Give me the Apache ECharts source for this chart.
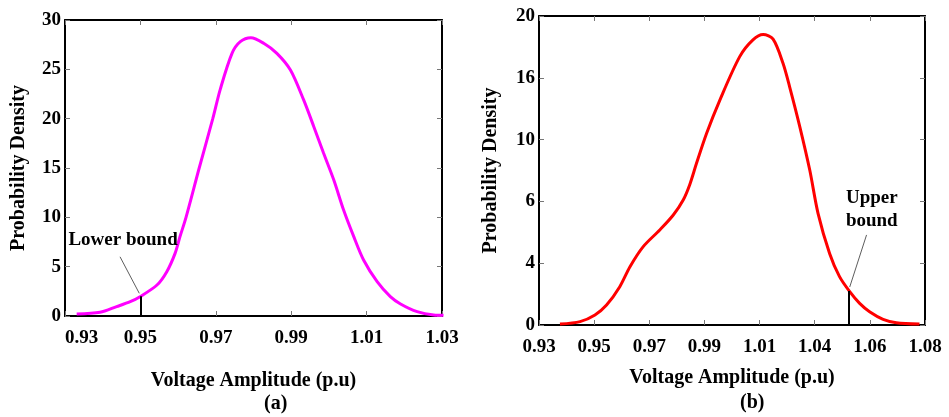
<!DOCTYPE html>
<html><head><meta charset="utf-8">
<script src="https://cdn.jsdelivr.net/npm/echarts@6/dist/echarts.min.js"></script>
<style>html,body{margin:0;padding:0;background:#fff}#c{width:949px;height:417px}</style>
</head><body><div id="c"></div>
<script>
// ---- Data (a) ----
const voltA = [0.9331,0.9393,0.9437,0.9473,0.9499,0.9544,0.9570,0.9592,0.9605,0.9621,0.9656,0.9692,0.9712,0.9743,0.9765,0.9793,0.9827,0.9862,0.9898,0.9933,0.9960,0.9986,1.0013,1.0039,1.0066,1.0092,1.0128,1.0163,1.0190,1.0234,1.0278,1.0304];
const densA = [0.2,0.37,0.95,1.45,1.96,3.14,4.49,6.35,8.04,10.0,15.0,20.0,23.0,26.62,27.8,28.2,27.64,26.62,24.93,21.9,19.19,16.49,13.78,10.74,8.04,5.68,3.48,1.96,1.22,0.44,0.1,0.07];
const xTicksA = ['0.93','0.95','0.97','0.99','1.01','1.03'];
const yTicksA = ['0','5','10','15','20','25','30'];
// ---- Data (b) ----
const voltB = [0.9376,0.9449,0.9503,0.9545,0.9593,0.9630,0.9678,0.9738,0.9787,0.9823,0.9847,0.9871,0.9908,0.9956,1.0028,1.0076,1.0113,1.0149,1.0185,1.0209,1.0246,1.0282,1.0312,1.0354,1.0390,1.0427,1.0463,1.0499,1.0548,1.0596,1.0680];
const densB = [0.06,0.22,0.65,1.29,2.48,3.77,5.07,6.15,7.12,8.09,9.1,10.45,12.41,14.56,17.37,18.45,18.8,18.5,16.94,15.42,12.83,10.03,7.23,4.63,3.13,2.16,1.4,0.86,0.37,0.15,0.06];
const xTicksB = ['0.93','0.95','0.97','0.99','1.01','1.04','1.06','1.08'];
const yTicksB = ['0','4','6','10','16','20'];
// annotations
const lowerBound = {x:0.95, y:2.0, lineFrom:[0.9446,6.0], lineTo:[0.9497,2.3], text:'Lower bound', textAt:[0.9454,7.7]};
const upperBound = {x:1.0424, y:2.2, lineFrom:[1.0488,5.83], lineTo:[1.0427,2.46], text:'Upper\nbound', textAt:[1.0507,7.45]};

const X0 = 0.93, STEP = 0.02;
const FONT = '"Liberation Serif","Times New Roman",serif';
const txt = {color:'#000', fontFamily:FONT, fontWeight:'bold', fontSize:19};

function idxLabel(arr, step){ return v => { const i = Math.round(v/step); return arr[i] !== undefined ? arr[i] : ''; }; }

function xAxes(grid, max, labels, alignMin){
  return [
    {type:'value', gridIndex:grid, min:0, max:max, interval:STEP, position:'bottom',
     axisLine:{show:true, onZero:false, lineStyle:{color:'#000', width:2}},
     axisTick:{show:true, inside:true, length:5, lineStyle:{color:'#777'}},
     splitLine:{show:false},
     axisLabel:Object.assign({formatter:idxLabel(labels, STEP), margin:13, alignMinLabel: alignMin ? 'left' : undefined}, txt),
     name:'Voltage Amplitude (p.u)', nameLocation:'middle', nameGap: grid===0?55:43,
     nameTextStyle:Object.assign({}, txt, {fontSize:20})},
    {type:'value', gridIndex:grid, min:0, max:max, interval:STEP, position:'top',
     axisLine:{show:true, onZero:false, lineStyle:{color:'#000', width:2}},
     axisTick:{show:true, inside:true, length:5, lineStyle:{color:'#777'}},
     axisLabel:{show:false}, splitLine:{show:false}}
  ];
}
function yAxes(grid, max, interval, labels, gap){
  return [
    {type:'value', gridIndex:grid, min:0, max:max, interval:interval, position:'left',
     axisLine:{show:true, onZero:false, lineStyle:{color:'#000', width:2}},
     axisTick:{show:true, inside:true, length:5, lineStyle:{color:'#777'}},
     splitLine:{show:false},
     axisLabel:Object.assign({formatter:idxLabel(labels, interval), margin:4}, txt),
     name:'Probability Density', nameLocation:'middle', nameGap:gap, nameRotate:90,
     nameTextStyle:Object.assign({}, txt, {fontSize:20})},
    {type:'value', gridIndex:grid, min:0, max:max, interval:interval, position:'right',
     axisLine:{show:true, onZero:false, lineStyle:{color:'#000', width:2}},
     axisTick:{show:true, inside:true, length:5, lineStyle:{color:'#777'}},
     axisLabel:{show:false}, splitLine:{show:false}}
  ];
}
function annot(b){
  return {
    markLine:{silent:true, symbol:'none', label:{show:false}, animation:false,
      data:[
        [{coord:[b.x-X0,0], lineStyle:{color:'#000', width:2, type:'solid'}},{coord:[b.x-X0,b.y]}],
        [{coord:[b.lineFrom[0]-X0,b.lineFrom[1]], lineStyle:{color:'#333', width:0.8, type:'solid'}},{coord:[b.lineTo[0]-X0,b.lineTo[1]]}]
      ]},
    markPoint:{silent:true, symbol:'circle', symbolSize:0, animation:false,
      data:[{coord:[b.textAt[0]-X0,b.textAt[1]], label:Object.assign({show:true, formatter:b.text, position:'inside', lineHeight:23, align:'center'}, txt)}]}
  };
}

const chart = echarts.init(document.getElementById('c'), null, {renderer:'canvas'});
chart.setOption({
  animation:false,
  backgroundColor:'#fff',
  grid:[
    {left:65, top:20, width:377, height:296},
    {left:539, top:16, width:386, height:309}
  ],
  xAxis:[...xAxes(0, 0.10, xTicksA, true), ...xAxes(1, 0.14, xTicksB, false)],
  yAxis:[...yAxes(0, 30, 5, yTicksA, 36), ...yAxes(1, 20, 4, yTicksB, 38)],
  series:[
    Object.assign({type:'line', xAxisIndex:0, yAxisIndex:0, smooth:0.3, symbol:'none',
      lineStyle:{color:'#FF00FF', width:3},
      data: voltA.map((v,i)=>[v-X0, densA[i]])}, annot(lowerBound)),
    Object.assign({type:'line', xAxisIndex:2, yAxisIndex:2, smooth:0.3, symbol:'none',
      lineStyle:{color:'#FF0000', width:3},
      data: voltB.map((v,i)=>[v-X0, densB[i]])}, annot(upperBound))
  ],
  graphic:[
    {type:'text', left:264, top:394, style:{text:'(a)', fill:'#000', font:'bold 20px '+FONT}},
    {type:'text', left:740, top:393, style:{text:'(b)', fill:'#000', font:'bold 20px '+FONT}}
  ]
});
</script>
</body></html>
